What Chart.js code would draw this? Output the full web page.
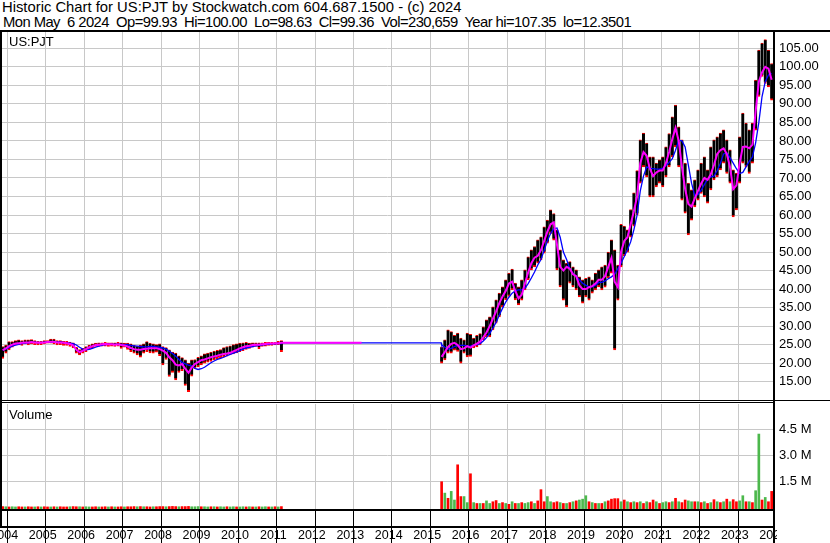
<!DOCTYPE html>
<html>
<head>
<meta charset="utf-8">
<script src="https://cdn.jsdelivr.net/npm/chart.js@4.4.1/dist/chart.umd.min.js"></script>
<style>
  body { margin: 0; background: #fff; }
  #page { position: relative; width: 830px; height: 543px; overflow: hidden; font-family: 'Liberation Sans', Arial, sans-serif; color: #000; }
  .hdr { position: absolute; left: 2px; font-size: 14.8px; line-height: 14px; white-space: pre; }
  .tag { position: absolute; left: 9px; font-size: 13px; line-height: 15px; }
  .rule { position: absolute; background: #000; }
  .blank { position: absolute; background: #fff; }
  canvas { position: absolute; left: 0; }
</style>
</head>
<body>
<div id="page">
  <div class="hdr" style="top:0px">Historic Chart for US:PJT by Stockwatch.com 604.687.1500 - (c) 2024</div>
  <div class="hdr" style="top:15px;left:3px;letter-spacing:-0.56px">Mon May  6 2024  Op=99.93  Hi=100.00  Lo=98.63  Cl=99.36  Vol=230,659  Year hi=107.35  lo=12.3501</div>

  <canvas id="price" width="830" height="368" style="top:32px"></canvas>
  <canvas id="volume" width="830" height="140" style="top:403px"></canvas>

  <div class="tag" style="top:34px">US:PJT</div>
  <div class="tag" style="top:407px">Volume</div>

  <div class="blank" style="left:777px;top:511px;width:53px;height:32px"></div>
  <div class="rule" style="left:0;top:30px;width:830px;height:2px"></div>
  <div class="rule" style="left:0;top:400px;width:830px;height:1px"></div>
  <div class="rule" style="left:0;top:402px;width:773px;height:1px"></div>
  <div class="rule" style="left:0;top:30px;width:2px;height:498px"></div>
  <div class="rule" style="left:773px;top:30px;width:2px;height:513px"></div>
  <div class="rule" style="left:0;top:509px;width:775px;height:2px"></div>
  <div class="rule" style="left:0;top:526px;width:775px;height:2px"></div>
</div>

<script>
// monthly bars, first period May 2004 - Aug 2011, second Oct 2015 - May 2024
const startA = [2004, 5];
const startB = [2015, 10];

const lowA = [21.3,22.7,23.6,24.3,24.9,24.9,24.8,25.2,24.9,25.2, 25.0,24.9,25.0,25.2,25.4,25.4,25.2,24.9,25.0,24.8,
  24.8,24.5,24.1,22.7,22.2,22.7,23.1,23.7,24.1,24.5, 24.5,24.6,24.6,24.5,24.6,24.5,24.6,24.0,24.3,23.7,
  23.1,22.7,22.2,21.6,22.7,23.1,22.8,22.7,23.0,22.0, 19.5,21.0,16.4,17.5,15.5,17.5,18.0,14.0,12.3,16.5,
  18.5,19.0,19.5,20.0,20.3,20.5,20.9,21.2,21.5,21.7, 21.9,22.2,22.5,22.8,23.1,23.4,23.7,24.0,24.3,24.5,
  23.9,24.5,24.6,24.8,24.8,24.9,25.0,23.1];
const highA = [24.5,24.9,25.8,25.8,26.1,26.3,26.1,26.3,26.3,26.4, 26.1,25.9,25.9,26.1,26.1,26.5,26.5,26.1,26.1,25.9,
  25.9,25.7,25.5,24.3,23.7,24.0,24.5,24.9,25.2,25.4, 25.5,25.5,25.6,25.5,25.5,25.5,25.6,25.5,25.4,25.4,
  25.2,24.9,24.6,24.9,25.2,25.8,25.4,25.2,25.0,25.2, 24.5,24.2,23.6,23.0,22.7,22.0,21.5,20.9,20.0,20.9,
  21.0,21.6,22.0,22.5,22.7,23.0,23.3,23.5,23.7,24.2, 24.5,24.7,25.0,25.2,25.4,25.5,25.6,25.4,25.5,25.5,
  25.5,25.5,25.6,25.6,25.6,25.6,25.9,26.1];
const maShortA = [23.5,24.0,24.6,25.0,25.3,25.4,25.5,25.6,25.6,25.7, 25.6,25.5,25.5,25.6,25.7,25.8,25.8,25.6,25.6,25.5,
  25.4,25.2,24.8,23.6,23.0,23.3,23.8,24.3,24.6,24.9, 25.0,25.1,25.2,25.1,25.1,25.0,25.1,24.9,24.8,24.5,
  24.1,23.8,23.6,23.6,23.8,23.9,24.0,24.0,24.0,23.8, 23.4,22.8,21.6,20.8,19.6,19.4,19.8,18.5,17.4,18.8,
  19.8,20.3,20.8,21.0,21.3,21.6,21.8,22.0,22.3,22.5, 22.6,22.8,23.2,23.6,24.0,24.3,24.6,24.7,24.9,25.0,
  25.0,25.1,25.2,25.3,25.3,25.4,25.4,25.5];
const maLongA = [23.5,23.8,24.2,24.6,24.9,25.1,25.3,25.4,25.5,25.6, 25.6,25.6,25.6,25.6,25.6,25.7,25.7,25.7,25.7,25.6,
  25.5,25.4,25.3,24.9,24.3,23.8,23.6,23.7,24.0,24.3, 24.6,24.8,25.0,25.1,25.1,25.1,25.1,25.1,25.0,25.0,
  24.8,24.7,24.6,24.5,24.4,24.4,24.5,24.5,24.4,24.3, 24.1,23.8,23.2,22.6,21.9,21.0,20.2,19.8,19.5,19.3,
  18.6,18.3,18.5,18.9,19.5,20.1,20.6,21.0,21.3,21.6, 22.0,22.4,22.7,23.0,23.4,23.8,24.1,24.3,24.5,24.7,
  24.8,24.9,25.0,25.1,25.2,25.2,25.3,25.3];
const volA = [0.02,0.01,0.0,0.01,0.0,0.01,0.0,0.0,0.01,0.0, 0.0,0.01,0.0,0.01,0.0,0.0,0.01,0.0,0.01,0.0,
  0.0,0.01,0.02,0.01,0.01,0.0,0.01,0.0,0.0,0.01, 0.0,0.0,0.01,0.0,0.01,0.0,0.0,0.01,0.0,0.01,
  0.01,0.02,0.01,0.02,0.01,0.01,0.0,0.01,0.01,0.02, 0.02,0.01,0.02,0.03,0.02,0.01,0.02,0.02,0.03,0.01,
  0.01,0.02,0.01,0.01,0.0,0.01,0.01,0.0,0.01,0.0, 0.01,0.0,0.01,0.0,0.0,0.01,0.0,0.01,0.0,0.0,
  0.01,0.0,0.01,0.0,0.0,0.01,0.0,0.02];
const upA = [0,1,0,1,1,0,0,1,0,0, 1,0,1,0,0,1,0,1,0,0, 0,1,0,0,1,0,1,1,0,0, 1,0,0,1,0,1,0,0,1,0,
  0,0,1,0,1,0,0,1,0,0, 0,1,0,0,0,1,0,0,0,1, 1,1,0,1,1,0,1,0,1,1, 0,1,1,0,1,1,0,1,0,1,
  0,1,1,0,1,0,1,0];

// gap: no trading, last price carried flat
const gapLevel = 25.5;
const gapShortEnd = [2013, 9];

const lowB = [20.0,20.9,22.7,22.7,23.5,23.2,20.0,22.7,21.7,21.8, 24.1,24.4,24.9,26.3,27.1,27.1,29.0,30.8,32.5,35.2,
  37.1,38.0,39.8,37.1,35.7,37.0,39.8,42.5,45.2,46.0, 47.0,47.9,49.7,52.4,55.0,53.2,45.2,40.6,37.0,35.2,
  41.6,40.6,39.8,37.9,36.2,37.9,37.0,38.9,39.8,40.6, 39.8,40.5,43.0,44.3,23.6,37.0,46.0,49.0,50.0,54.0,
  57.0,60.0,68.6,73.0,70.3,64.9,64.9,67.6,68.6,67.6, 70.3,73.0,75.7,78.4,73.0,64.0,60.5,54.6,58.6,62.2,
  64.0,65.8,64.9,63.2,66.8,69.5,70.3,72.2,74.0,71.2, 68.6,59.5,61.4,68.6,74.0,73.0,71.2,74.0,82.9,92.0,
  97.4,95.5,94.6,91.0];
const highB = [24.4,26.3,29.0,28.5,27.5,28.1,26.8,26.3,28.1,27.8, 26.8,27.5,28.0,29.8,31.7,32.5,35.2,37.1,38.9,40.6,
  42.5,44.3,45.4,41.6,40.6,42.5,45.2,48.7,50.6,51.5, 53.3,54.1,56.8,58.6,61.4,60.4,56.0,50.6,47.9,47.0,
  47.4,46.0,45.2,43.3,42.5,42.9,43.3,42.5,44.3,45.2, 46.0,46.5,50.0,53.3,50.6,46.5,57.5,57.0,56.0,61.5,
  66.0,72.0,80.3,82.1,79.4,75.7,75.7,74.0,74.9,75.7, 78.4,82.0,86.5,89.7,83.8,80.3,74.0,68.6,66.8,69.5,
  72.2,74.0,75.7,72.2,78.4,80.3,81.1,82.1,83.0,80.3, 77.6,72.2,71.3,81.1,87.5,84.8,83.0,84.8,96.4,104.5,
  106.4,107.35,104.5,100.9];
const maShortB = [21.7,23.0,24.4,25.2,25.5,24.9,23.8,24.0,24.6,24.2, 24.8,25.3,25.8,27.0,28.3,30.0,32.0,34.0,36.2,38.0,
  39.5,41.5,42.0,39.5,37.5,38.5,41.5,44.5,47.0,48.5, 49.0,50.5,53.0,55.5,57.5,58.0,52.0,46.0,45.0,46.0,
  45.5,44.0,43.5,41.0,40.0,40.0,40.5,40.8,41.5,42.5, 42.5,43.5,46.0,48.4,42.0,40.5,50.0,53.0,54.0,57.5,
  61.0,65.0,74.0,77.0,76.0,72.5,70.5,71.5,72.0,72.0, 74.0,77.0,80.5,83.5,80.0,73.0,67.0,63.0,62.3,64.5,
  66.5,68.5,70.0,69.5,71.0,73.5,76.5,77.5,78.0,76.5, 73.0,67.0,68.0,74.0,78.4,78.5,78.0,79.0,88.0,96.0,
  98.5,100.0,99.5,96.5];
const maLongB = [25.0,24.3,23.8,24.0,24.5,24.8,24.8,24.8,24.6,24.7, 24.9,25.0,25.3,26.0,26.9,28.0,29.5,31.0,33.0,34.8,
  36.5,37.8,38.9,39.5,39.8,39.8,40.2,41.5,43.0,44.6, 46.5,48.0,50.5,53.0,55.0,56.3,56.5,54.0,50.0,48.0,
  45.5,44.3,43.5,42.5,41.6,41.0,40.6,40.6,41.0,41.8, 41.8,42.2,42.8,43.3,44.0,45.5,47.0,48.8,50.6,52.8,
  56.0,60.0,66.5,70.5,73.0,72.6,72.5,72.4,72.4,72.6, 73.3,74.2,75.2,77.5,80.2,80.0,78.4,73.5,68.6,65.2,
  65.5,66.7,68.2,69.7,70.3,70.5,72.0,74.0,76.5,76.8, 75.5,74.0,72.5,71.2,71.5,73.0,74.5,75.7,79.5,85.0,
  92.0,96.0,97.8,98.2];
const volB = [1.46,0.8,0.5,0.9,0.4,2.44,0.6,0.6,0.25,1.92, 0.25,0.2,0.2,0.2,0.35,0.2,0.3,0.37,0.2,0.25,
  0.2,0.15,0.3,0.2,0.2,0.25,0.2,0.25,0.3,0.2, 0.35,1.0,0.3,0.6,0.3,0.25,0.3,0.25,0.2,0.2,
  0.25,0.3,0.35,0.4,0.45,0.65,0.3,0.25,0.2,0.2, 0.2,0.3,0.35,0.45,0.48,0.48,0.3,0.4,0.3,0.25,
  0.3,0.25,0.3,0.2,0.3,0.25,0.4,0.3,0.2,0.25, 0.3,0.25,0.3,0.5,0.3,0.25,0.4,0.35,0.3,0.3,
  0.3,0.25,0.3,0.2,0.25,0.42,0.3,0.25,0.3,0.45, 0.3,0.42,0.3,0.35,0.65,0.3,0.3,0.25,0.94,4.22,
  0.4,0.55,0.3,0.9];
const upB = [0,1,0,1,1,0,0,1,1,0, 1,0,1,0,1,1,0,0,1,0, 1,0,1,0,1,0,1,1,0,1, 0,0,0,1,1,0,0,1,0,1,
  0,1,0,1,1,1,0,1,0,1, 0,1,0,0,0,0,1,0,1,0, 1,0,1,0,1,0,0,1,0,1, 1,0,1,0,1,0,0,1,1,0,
  1,0,1,0,1,0,1,0,1,0, 1,0,0,1,1,0,1,0,1,1, 0,1,0,0];

const priceTicks = [15,20,25,30,35,40,45,50,55,60,65,70,75,80,85,90,95,100,105];
const volTicks = [1.5, 3.0, 4.5];
const yearLabels = [2004,2005,2006,2007,2008,2009,2010,2011,2012,2013,2014,2015,2016,2017,2018,2019,2020,2021,2022,2023,2024];

// axis ranges
const xMin = 2004.358, xMax = 2024.41;
const priceMin = 10.06, priceMax = 109.41;
const volMin = -0.12, volMax = 5.96;

function monthPos(y, m) { return y + (m - 0.5) / 12; }
function months(start, n) {
  let out = [];
  for (let i = 0; i < n; i++) {
    let k = start[1] - 1 + i;
    out.push(monthPos(start[0] + Math.floor(k / 12), (k % 12) + 1));
  }
  return out;
}

const datesA = months(startA, lowA.length);
const datesB = months(startB, lowB.length);
const gapStart = datesA[datesA.length - 1];

const rangePts = [];
datesA.forEach((d, i) => rangePts.push({ x: d, y: [lowA[i], highA[i]] }));
datesB.forEach((d, i) => rangePts.push({ x: d, y: [lowB[i], highB[i]] }));

const shortPts = datesA.map((d, i) => ({ x: d, y: maShortA[i] }))
  .concat([{ x: gapStart, y: gapLevel }, { x: monthPos(gapShortEnd[0], gapShortEnd[1]), y: gapLevel }, { x: monthPos(gapShortEnd[0], gapShortEnd[1] + 1), y: null }])
  .concat(datesB.map((d, i) => ({ x: d, y: maShortB[i] })));
const longPts = datesA.map((d, i) => ({ x: d, y: maLongA[i] }))
  .concat([{ x: gapStart, y: gapLevel }, { x: datesB[0] - 0.01, y: gapLevel }])
  .concat(datesB.map((d, i) => ({ x: d, y: maLongB[i] })));

const volPts = datesA.map((d, i) => ({ x: d, y: volA[i] })).concat(datesB.map((d, i) => ({ x: d, y: volB[i] })));
const volUp = upA.concat(upB);

Chart.defaults.font.family = "'Liberation Sans', Arial, sans-serif";
Chart.defaults.color = '#000';

const gridGrey = '#c8c8c8';

function yearTicks(scale) {
  scale.ticks = yearLabels.filter(y => y >= scale.min && y <= scale.max).map(v => ({ value: v }));
}

new Chart(document.getElementById('price'), {
  type: 'bar',
  data: {
    datasets: [
      { type: 'line', data: shortPts, borderColor: '#ff00ff', borderWidth: 2, pointRadius: 0, order: 1 },
      { type: 'line', data: longPts, borderColor: '#0000ff', borderWidth: 1.3, pointRadius: 0, order: 2 },
      {
        type: 'bar', data: rangePts, backgroundColor: '#000', barThickness: 3, grouped: false, order: 3,
        borderColor: '#ff0000', borderWidth: { top: 1, bottom: 2, left: 0, right: 0 }, borderSkipped: false
      }
    ]
  },
  options: {
    responsive: false,
    animation: false,
    devicePixelRatio: 1,
    layout: { padding: { left: 2 } },
    plugins: { legend: { display: false }, tooltip: { enabled: false } },
    scales: {
      x: {
        type: 'linear', min: xMin, max: xMax, offset: false,
        grid: { color: gridGrey, drawTicks: false },
        border: { display: false },
        ticks: { display: false },
        afterBuildTicks: yearTicks,
        afterFit: s => { s.height = 0; s.paddingLeft = 0; s.paddingRight = 0; }
      },
      y: {
        position: 'right', min: priceMin, max: priceMax,
        grid: { color: gridGrey, drawTicks: false },
        border: { display: false },
        ticks: { padding: 6, font: { size: 13 }, callback: v => v.toFixed(2) },
        afterBuildTicks: s => { s.ticks = priceTicks.map(v => ({ value: v })); },
        afterFit: s => { s.width = 57; s.paddingTop = 0; s.paddingBottom = 0; }
      }
    }
  }
});

new Chart(document.getElementById('volume'), {
  type: 'bar',
  data: {
    datasets: [{
      data: volPts,
      backgroundColor: volUp.map(u => u ? '#4cb84c' : '#ff0000'),
      barThickness: 2,
      base: volMin
    }]
  },
  options: {
    responsive: false,
    animation: false,
    devicePixelRatio: 1,
    layout: { padding: { left: 2, top: 1 } },
    plugins: { legend: { display: false }, tooltip: { enabled: false } },
    scales: {
      x: {
        type: 'linear', min: xMin, max: xMax, offset: false,
        grid: { color: gridGrey, tickColor: '#000', tickLength: 34 },
        border: { display: false },
        ticks: { font: { size: 12.5 }, padding: -15, labelOffset: 16, autoSkip: false, maxRotation: 0, callback: v => String(v) },
        afterBuildTicks: s => { s.ticks = yearLabels.map(v => ({ value: v })); },
        afterFit: s => { s.height = 34; s.paddingLeft = 0; s.paddingRight = 0; }
      },
      y: {
        position: 'right', min: volMin, max: volMax,
        grid: { color: gridGrey, drawTicks: false },
        border: { display: false },
        ticks: { padding: 6, font: { size: 13 }, callback: v => v.toFixed(1) + ' M' },
        afterBuildTicks: s => { s.ticks = volTicks.map(v => ({ value: v })); },
        afterFit: s => { s.width = 57; s.paddingTop = 0; s.paddingBottom = 0; }
      }
    }
  }
});
</script>
</body>
</html>
